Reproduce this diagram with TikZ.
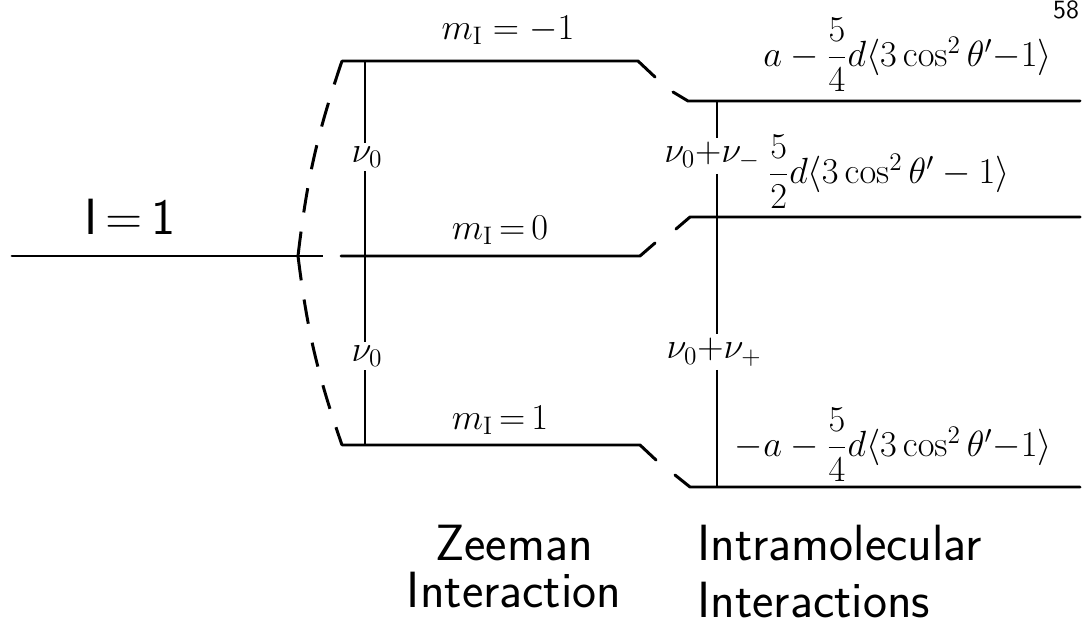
\documentclass[tikz,border=0pt]{standalone}
\usepackage{amsmath}
\usetikzlibrary{positioning}

\begin{document}
\begin{tikzpicture}[
      x = 0.02cm, y = -0.02cm,
      lvl/.style={
        line width = 1.7pt,
        line cap = round,
        line join = round,
      },
      tie/.style={
        line width = 1.1pt,
      },
      split/.style={
        line width = 1.7pt,
        dash pattern = on 14pt off 11pt,
      },
      word/.style={
        font = \fontsize{29}{34}\selectfont\sffamily,
        inner sep = 0pt,
      },
      eq/.style={
        font = \fontsize{20}{24}\selectfont,
        inner sep = 0pt,
      },
      mlab/.style={
        font = \fontsize{22}{26}\selectfont,
        inner sep = 0pt,
      },
      freq/.style={
        font = \fontsize{22}{26}\selectfont,
        inner sep = 2pt,
      },
    ]
    \useasboundingbox (0,0) rectangle (1083,625);
    \coordinate (g0) at (12,256);
    \coordinate (g1) at (298,256);
    \coordinate (gd) at (329,256);
    \coordinate (zt0) at (342,61);
    \coordinate (zt1) at (638,61);
    \coordinate (zt2) at (655,77);
    \coordinate (zm0) at (341,256);
    \coordinate (zm1) at (640,256);
    \coordinate (zm2) at (655,243);
    \coordinate (zb0) at (342,445);
    \coordinate (zb1) at (640,445);
    \coordinate (zb2) at (656,460);
    \coordinate (it0) at (673,92);
    \coordinate (it1) at (688,101);
    \coordinate (it2) at (1080,101);
    \coordinate (im0) at (676,229);
    \coordinate (im1) at (690,217);
    \coordinate (im2) at (1080,217);
    \coordinate (ib0) at (675,475);
    \coordinate (ib1) at (690,487);
    \coordinate (ib2) at (1080,487);
    \coordinate (zv0) at (365,61);
    \coordinate (zv1) at (365,445);
    \coordinate (iv0) at (717,101);
    \coordinate (iv1) at (717,487);
    \node[word] (spin) at (130,217) {I\,=\,1};
    \node[mlab] (mup) at (508,30) {$m_{\mathrm{I}}\;{=}\;{-1}$};
    \node[mlab] (mzero) at (500,230) {$m_{\mathrm{I}}\,{=}\,0$};
    \node[mlab] (mdown) at (500,420) {$m_{\mathrm{I}}\,{=}\,1$};
    \node[freq] (nua) at (367,157) {$\nu_0$};
    \node[freq] (nub) at (367,356) {$\nu_0$};
    \node[freq] (nuc) at (712,156) {$\nu_0{+}\nu_-$};
    \node[freq] (nud) at (714,352) {$\nu_0{+}\nu_+$};
    \node[eq, anchor = east] (eup) at (1052,55)
      {$a-\dfrac{5}{4}d\langle 3\cos^2\theta'{-}1\rangle$};
    \node[eq, anchor = west] (ezero) at (768,172)
      {$\dfrac{5}{2}d\langle 3\cos^2\theta'-1\rangle$};
    \node[eq, anchor = east] (edown) at (1052,445)
      {$-a-\dfrac{5}{4}d\langle 3\cos^2\theta'{-}1\rangle$};
    \node[word] (zee) at (514,543) {Zeeman};
    \node[word, below = 6pt of zee.south, anchor = north] (zeeint) {Interaction};
    \node[word, anchor = west] (intra) at (697,543) {Intramolecular};
    \node[word, anchor = west] (intraint) at (697,600) {Interactions};
    \node[eq, font = \fontsize{15}{18}\selectfont\sffamily] (page) at (1066,10) {58};
    \draw[lvl] (g0) -- (g1);
    \draw[split] (g1) to[bend left = 6] (zt0);
    \draw[split] (g1) to[bend right = 6] (zb0);
    \draw[split] (g1) -- (gd);
    \draw[lvl] (zt0) -- (zt1) -- (zt2);
    \draw[lvl] (zm0) -- (zm1) -- (zm2);
    \draw[lvl] (zb0) -- (zb1) -- (zb2);
    \draw[lvl] (it0) -- (it1) -- (it2);
    \draw[lvl] (im0) -- (im1) -- (im2);
    \draw[lvl] (ib0) -- (ib1) -- (ib2);
    \draw[tie] (zv0) -- (zv0 |- nua.north) (zv0 |- nua.south) -- (zv0 |- nub.north)
      (zv0 |- nub.south) -- (zv1);
    \draw[tie] (iv0) -- (iv0 |- nuc.north) (iv0 |- nuc.south) -- (iv0 |- nud.north)
      (iv0 |- nud.south) -- (iv1);
  \end{tikzpicture}
\end{document}
